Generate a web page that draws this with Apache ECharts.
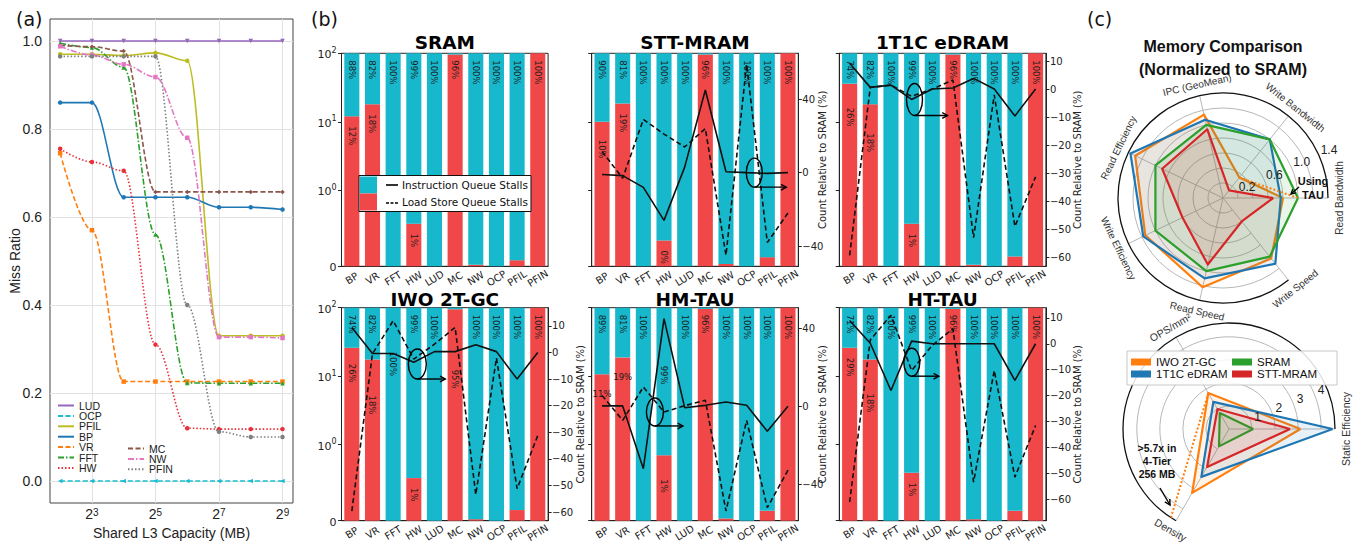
<!DOCTYPE html>
<html><head><meta charset="utf-8">
<script src="https://cdn.jsdelivr.net/npm/echarts@6/dist/echarts.min.js"></script>
<style>html,body{margin:0;padding:0;background:#fff}#c{width:1366px;height:544px}</style>
</head><body><div id="c"></div>
<script>
// ================= DATA =================
// ---- Panel (a): miss ratio vs shared L3 capacity ----
const capacitiesMB = [4, 8, 16, 32, 64, 128, 256, 512];
const capacityTickMB = [8, 32, 128, 512];
const missRatioTicks = [0, 0.2, 0.4, 0.6, 0.8, 1.0];
const missLUD  = [1.0, 1.0, 1.0, 1.0, 1.0, 1.0, 1.0, 1.0];
const missOCP  = [0, 0, 0, 0, 0, 0, 0, 0];
const missPFIL = [0.97, 0.97, 0.967, 0.973, 0.955, 0.33, 0.33, 0.33];
const missBP   = [0.86, 0.86, 0.645, 0.645, 0.645, 0.622, 0.622, 0.617];
const missVR   = [0.745, 0.57, 0.226, 0.226, 0.226, 0.226, 0.226, 0.226];
const missFFT  = [0.995, 0.985, 0.94, 0.56, 0.223, 0.222, 0.222, 0.222];
const missHW   = [0.755, 0.725, 0.705, 0.31, 0.12, 0.118, 0.118, 0.118];
const missMC   = [0.99, 0.987, 0.977, 0.657, 0.657, 0.657, 0.657, 0.657];
const missNW   = [0.988, 0.968, 0.947, 0.918, 0.78, 0.327, 0.327, 0.325];
const missPFIN = [0.965, 0.965, 0.965, 0.965, 0.40, 0.112, 0.10, 0.10];

// ---- Panel (b): stall breakdown (%), symlog bars + relative counts ----
const benchmarks = ['BP', 'VR', 'FFT', 'HW', 'LUD', 'MC', 'NW', 'OCP', 'PFIL', 'PFIN'];
const symlogTickValues = [0, 1, 10, 100];
const deltaTicksFine = [-60, -50, -40, -30, -20, -10, 0, 10];
const deltaTicksCoarse = [-40, 0, 40];
// load-store-queue bar heights (% of stalls)
const lsqBarSRAM = [12, 18, 0, 0.56, 0, 96, 0.02, 0, 0.08, 100];
const lsqBarSTT  = [10, 18.5, 0, 0.34, 0, 96, 0.03, 0, 0.12, 100];
const lsqBarEDRAM= [36, 18, 0, 0.56, 0, 96, 0.02, 0, 0.13, 100];
const lsqBarIWO  = [26, 17.5, 0, 0.56, 0, 95, 0.02, 0, 0.14, 100];
const lsqBarHM   = [10.7, 18.8, 0, 0.86, 0, 96, 0.03, 0, 0.13, 100];
const lsqBarHT   = [26, 17.5, 0, 0.63, 0, 96, 0.02, 0, 0.13, 100];
// labels written at the top of each bar
const topPctSRAM = [88, 82, 100, 99, 100, 96, 100, 100, 100, 100];
const topPctSTT  = [90, 81, 100, 100, 100, 96, 100, 100, 100, 100];
const topPctEDRAM= [74, 82, 100, 99, 100, 96, 100, 100, 100, 100];
const topPctIWO  = [74, 82, 100, 99, 100, 95, 100, 100, 100, 100];
const topPctHM   = [89, 81, 100, 99, 100, 96, 100, 100, 100, 100];
const topPctHT   = [71, 82, 100, 99, 100, 96, 100, 100, 100, 100];
// labels written inside the load-store part
const lsqPctSRAM = [12, 18, null, 1, null, null, null, null, null, null];
const lsqPctSTT  = [10, 19, null, 0, null, null, null, null, null, null];
const lsqPctEDRAM= [26, 18, null, 1, null, null, null, null, null, null];
const lsqPctIWO  = [26, 18, null, 1, null, null, null, null, null, null];
const lsqPctHM   = [11, 19, null, 1, null, null, null, null, null, null];
const lsqPctHT   = [29, 18, null, 1, null, null, null, null, null, null];
// counts relative to SRAM (%)
const iqDeltaSTT   = [-1, -1.6, -8, -26, 3, 45, 0.5, 0, -0.4, 0];
const lsqDeltaSTT  = [11.5, -3, 29, 21, 14, 24, -45, 59, -38, -22];
const iqDeltaEDRAM = [9.2, 0.6, 1.4, -3.7, 0, 0.4, 3.8, 0, -9.6, 0];
const lsqDeltaEDRAM= [-59.3, 0.6, 1.4, -2.6, 0, 3.2, -53, -2.1, -49, -31.3];
const iqDeltaIWO   = [9.4, -0.4, -0.4, -3.7, 0.3, 0.3, 2.9, 0.3, -10, 0];
const lsqDeltaIWO  = [-59.6, -0.5, 11.9, -2.5, 3.1, 9.4, -53.4, -2.1, -51.2, -31.2];
const iqDeltaHM    = [0.2, 0.2, -32, 45, -0.7, 0.5, 2.2, 0.5, -12.8, 0];
const lsqDeltaHM   = [5.6, -7.2, 9.9, -2.9, 0.3, 3.1, -53.7, -7.2, -52, -32.8];
const iqDeltaHT    = [9, 0.2, -18, 1, 0, 0, 0, 0, -14.1, 0];
const lsqDeltaHT   = [-61, 1.5, 11, -10.3, -0.6, 5.8, -53.3, -10.3, -51.4, -31.5];

// ---- Panel (c): radar comparisons ----
const perfAxes = ['Read Bandwidth', 'Write Bandwidth', 'IPC (GeoMean)', 'Read Efficiency', 'Write Efficiency', 'Read Speed', 'Write Speed'];
const perfIWO   = [0.80, 0.35, 1.14, 1.30, 1.15, 1.22, 1.03];
const perfEDRAM = [0.77, 1.00, 1.07, 1.37, 1.18, 1.10, 1.12];
const perfSRAM  = [1.00, 1.00, 1.00, 1.00, 1.00, 1.00, 1.00];
const perfSTT   = [0.67, 0.13, 0.94, 0.90, 0.60, 0.91, 0.40];
const perfTauAxes   = ['Write Bandwidth', 'Read Bandwidth', 'Write Speed'];
const perfTauValues = [0.35, 1.00, 1.03];
const perfRingValues  = [0.2, 0.4, 0.6, 0.8, 1.0, 1.2];
const perfRingLabels  = [0.2, 0.6, 1.0, 1.4];
const densAxes = ['Static Efficiency', 'OPS/mm²', 'Density'];
const densIWO   = [3.1, 1.8, 3.2];
const densEDRAM = [4.5, 1.36, 2.4];
const densSRAM  = [1.05, 0.8, 0.87];
const densSTT   = [2.65, 1.0, 1.9];
const dens4TierAxes   = ['OPS/mm²', 'Density', 'Static Efficiency'];
const dens4TierValues = [1.8, 5.7, 3.1];
const densRingValues = [1, 2, 3, 4];

// ================= BUILD =================
const FA = 'Liberation Sans', FB = 'DejaVu Sans';
const CYAN = '#17b8cc', RED = '#f04848';
const LIN = 1 / (1 - 1 / 10);
function symlog(v) { return v <= 1 ? v * LIN : LIN + Math.log10(v); }
const SYM_TOP = symlog(100);

const chart = echarts.init(document.getElementById('c'), null, {renderer: 'svg', width: 1366, height: 544});

const titles = [], legends = [], grids = [], xAxes = [], yAxes = [], series = [];

// ----- (a) -----
titles.push({text: '(a)', left: 16, top: 8, padding: 0, textStyle: {fontFamily: FB, fontSize: 19, fontWeight: 'normal', color: '#111', lineHeight: 22}});
titles.push({text: '(b)', left: 311, top: 8, padding: 0, textStyle: {fontFamily: FB, fontSize: 19, fontWeight: 'normal', color: '#111', lineHeight: 22}});
titles.push({text: '(c)', left: 1087, top: 8, padding: 0, textStyle: {fontFamily: FB, fontSize: 19, fontWeight: 'normal', color: '#111', lineHeight: 22}});

grids.push({left: 50, top: 19, width: 243, height: 484, show: true, borderColor: '#444', borderWidth: 1, outerBoundsMode: 'none'});
const capTicks = capacityTickMB.map(c => Math.log2(c));
xAxes.push({gridIndex: 0, type: 'value', min: 1.68, max: 9.33,
  name: 'Shared L3 Capacity (MB)', nameLocation: 'middle', nameGap: 22, nameMoveOverlap: false,
  nameTextStyle: {fontFamily: FA, fontSize: 14, color: '#222', lineHeight: 15},
  axisLine: {show: false}, axisTick: {show: false, customValues: capTicks},
  axisLabel: {customValues: capTicks, margin: 4, color: '#222',
    formatter: v => '{b|2}{s|' + Math.round(v) + '}',
    rich: {b: {fontFamily: FA, fontSize: 14, lineHeight: 14, verticalAlign: 'bottom', color: '#222'},
           s: {fontFamily: FA, fontSize: 10, lineHeight: 14, verticalAlign: 'top', color: '#222'}}},
  splitLine: {show: true, lineStyle: {color: '#e2e2e2', width: 1}}});
yAxes.push({gridIndex: 0, type: 'value', min: -0.05, max: 1.05,
  name: 'Miss Ratio', nameLocation: 'middle', nameGap: 28, nameMoveOverlap: false,
  nameTextStyle: {fontFamily: FA, fontSize: 14, color: '#222'},
  axisLine: {show: false}, axisTick: {show: false, customValues: missRatioTicks},
  axisLabel: {customValues: missRatioTicks, formatter: v => v.toFixed(1), fontFamily: FA, fontSize: 14, margin: 8, color: '#222'},
  splitLine: {show: true, lineStyle: {color: '#e2e2e2', width: 1}}});

const missDefs = [
  ['LUD', missLUD, '#9467bd', 'solid', 'triangle', 180],
  ['OCP', missOCP, '#17becf', [5, 2.5], 'triangle', 90],
  ['PFIL', missPFIL, '#bcbd22', 'solid', 'circle', 0],
  ['BP', missBP, '#1f77b4', 'solid', 'circle', 0],
  ['VR', missVR, '#ff7f0e', [5, 2.5], 'rect', 0],
  ['FFT', missFFT, '#2ca02c', [6, 2, 1.5, 2], 'triangle', 0],
  ['HW', missHW, '#e8303a', [1.5, 2], 'circle', 0],
  ['MC', missMC, '#8c564b', [5, 2.5], 'diamond', 0],
  ['NW', missNW, '#e377c2', [6, 2, 1.5, 2], 'rect', 0],
  ['PFIN', missPFIN, '#7f7f7f', [1.5, 2], 'circle', 0]
];
missDefs.forEach(([name, arr, color, dash, sym, rot]) => {
  series.push({type: 'line', name, xAxisIndex: 0, yAxisIndex: 0,
    data: capacitiesMB.map((c, i) => [Math.log2(c), arr[i]]),
    smooth: 0.35, smoothMonotone: 'x', symbol: sym, symbolSize: 4.5, symbolRotate: rot,
    lineStyle: {color, width: 1.6, type: dash}, itemStyle: {color}, z: 3});
});
const legA = {orient: 'vertical', padding: 0, itemWidth: 16, itemHeight: 8, itemGap: -0.6,
  textStyle: {fontFamily: FA, fontSize: 10.5, color: '#222', lineHeight: 9.6}, itemStyle: {opacity: 0}};
legends.push(Object.assign({}, legA, {left: 57, top: 400, data: ['LUD', 'OCP', 'PFIL', 'BP', 'VR', 'FFT', 'HW']}));
legends.push(Object.assign({}, legA, {left: 127, top: 443, data: ['MC', 'NW', 'PFIN']}));

// ----- (b) -----
const panels = [
  {title: 'SRAM', bar: lsqBarSRAM, top: topPctSRAM, low: lsqPctSRAM, col: 0, row: 0},
  {title: 'STT-MRAM', bar: lsqBarSTT, top: topPctSTT, low: lsqPctSTT, iq: iqDeltaSTT, lsq: lsqDeltaSTT, col: 1, row: 0, rmin: -51, rmax: 65, ticks: deltaTicksCoarse, gap: 19},
  {title: '1T1C eDRAM', bar: lsqBarEDRAM, top: topPctEDRAM, low: lsqPctEDRAM, iq: iqDeltaEDRAM, lsq: lsqDeltaEDRAM, col: 2, row: 0, rmin: -63.2, rmax: 12.75, ticks: deltaTicksFine, gap: 27},
  {title: 'IWO 2T-GC', bar: lsqBarIWO, top: topPctIWO, low: lsqPctIWO, iq: iqDeltaIWO, lsq: lsqDeltaIWO, col: 0, row: 1, rmin: -63.2, rmax: 16.8, ticks: deltaTicksFine, gap: 27},
  {title: 'HM-TAU', bar: lsqBarHM, top: topPctHM, low: lsqPctHM, iq: iqDeltaHM, lsq: lsqDeltaHM, col: 1, row: 1, rmin: -58.7, rmax: 50.6, ticks: deltaTicksCoarse, gap: 19},
  {title: 'HT-TAU', bar: lsqBarHT, top: topPctHT, low: lsqPctHT, iq: iqDeltaHT, lsq: lsqDeltaHT, col: 2, row: 1, rmin: -68.2, rmax: 13.9, ticks: deltaTicksFine, gap: 27}
];
const colLeft = [341.5, 591.7, 839.3], rowTop = [53.3, 307.7], GW = 206.6, GH = 213;
// label placement tweaks (pixels)
const topLabelDist = {'IWO 2T-GC': {2: 44, 5: 62}, 'HM-TAU': {3: 58}};
const lowLabelDist = {'STT-MRAM': {0: 18}, '1T1C eDRAM': {0: 24, 1: 29}, 'IWO 2T-GC': {0: 16, 1: 36}, 'HT-TAU': {1: 34}, 'HM-TAU': {3: 24}};
const lowLabelFlat = {'HM-TAU': {0: 15, 1: 15}};
const symTicks = symlogTickValues.map(symlog);
const rightAxisOf = {};

panels.forEach((p, k) => {
  const gi = k + 1;
  grids.push({left: colLeft[p.col], top: rowTop[p.row], width: GW, height: GH, show: true, borderColor: '#222', borderWidth: 1, outerBoundsMode: 'none'});
  titles.push({text: p.title, left: colLeft[p.col] + GW / 2, top: p.row === 0 ? 32.5 : 289, textAlign: 'center', padding: 0,
    textStyle: {fontFamily: FB, fontSize: 18.5, fontWeight: 'bold', color: '#000', lineHeight: 20}});
  xAxes.push({gridIndex: gi, type: 'category', data: benchmarks,
    axisLine: {lineStyle: {color: '#222'}}, axisTick: {alignWithLabel: true, length: 3.5, lineStyle: {color: '#222'}},
    axisLabel: {interval: 0, rotate: 32, align: 'center', verticalAlign: 'middle', margin: 12, fontFamily: FB, fontSize: 10, color: '#222'}});
  yAxes.push({gridIndex: gi, type: 'value', min: 0, max: SYM_TOP, position: 'left',
    axisLine: {show: true, lineStyle: {color: '#222'}},
    axisTick: {show: true, length: 3.5, customValues: symTicks, lineStyle: {color: '#222'}},
    axisLabel: {show: p.col === 0, customValues: symTicks, margin: 5,
      formatter: v => { const t = symlogTickValues.find(x => Math.abs(symlog(x) - v) < 1e-6); return t === 0 ? '{b|0}' : '{b|10}{s|' + Math.round(Math.log10(t)) + '}'; },
      rich: {b: {fontFamily: FB, fontSize: 11, lineHeight: 14, verticalAlign: 'bottom', color: '#222'},
             s: {fontFamily: FB, fontSize: 8, lineHeight: 14, verticalAlign: 'top', color: '#222'}}},
    splitLine: {show: false}});
});
panels.forEach((p, k) => {
  if (!p.iq) return;
  rightAxisOf[k] = yAxes.length;
  yAxes.push({gridIndex: k + 1, type: 'value', position: 'right', min: p.rmin, max: p.rmax,
    name: 'Count Relative to SRAM (%)', nameLocation: 'middle', nameRotate: 90, nameGap: p.gap, nameMoveOverlap: false,
    nameTextStyle: {fontFamily: FB, fontSize: 10, color: '#222'},
    axisLine: {show: true, lineStyle: {color: '#222'}},
    axisTick: {show: true, length: 3.5, customValues: p.ticks, lineStyle: {color: '#222'}},
    axisLabel: {customValues: p.ticks, margin: 4, fontFamily: FB, fontSize: 10, color: '#222',
      formatter: v => (v < 0 ? '\u2212' : '') + Math.abs(Math.round(v))},
    splitLine: {show: false}});
});

panels.forEach((p, k) => {
  const gi = k + 1;
  const barLabel = {show: true, position: 'insideTop', rotate: -90, align: 'left', verticalAlign: 'middle',
    fontFamily: FB, fontSize: 8.5, color: '#1c1c1c'};
  series.push({type: 'bar', name: 'Load Store Queue Stalls', xAxisIndex: gi, yAxisIndex: gi, stack: 'st' + k, barWidth: '73%',
    itemStyle: {color: RED},
    label: Object.assign({}, barLabel, {distance: 10, formatter: prm => p.low[prm.dataIndex] == null ? '' : p.low[prm.dataIndex] + '%'}),
    data: p.bar.map((v, i) => {
      const o = {value: symlog(v)};
      const d = (lowLabelDist[p.title] || {})[i];
      const f = (lowLabelFlat[p.title] || {})[i];
      if (f != null) o.label = {rotate: 0, align: 'center', verticalAlign: 'top', distance: f};
      else if (d != null) o.label = {distance: d};
      return o;
    })});
  series.push({type: 'bar', name: 'Instruction Queue Stalls', xAxisIndex: gi, yAxisIndex: gi, stack: 'st' + k, barWidth: '73%',
    itemStyle: {color: CYAN},
    label: Object.assign({}, barLabel, {distance: 7, formatter: prm => p.top[prm.dataIndex] + '%'}),
    data: p.bar.map((v, i) => {
      const o = {value: SYM_TOP - symlog(v)};
      const d = (topLabelDist[p.title] || {})[i];
      if (d != null) o.label = {distance: d};
      return o;
    })});
  if (p.iq) {
    series.push({type: 'line', name: 'IQ relative ' + p.title, xAxisIndex: gi, yAxisIndex: rightAxisOf[k], data: p.iq,
      symbol: 'none', lineStyle: {color: '#111', width: 1.6}, z: 5});
    series.push({type: 'line', name: 'LSQ relative ' + p.title, xAxisIndex: gi, yAxisIndex: rightAxisOf[k], data: p.lsq,
      symbol: 'none', lineStyle: {color: '#111', width: 1.6, type: [5, 3]}, z: 5});
  }
});
legends.push({orient: 'vertical', left: 359, top: 175.5, padding: [1, 3, 1, 1], itemGap: 0, itemWidth: 17, itemHeight: 17,
  icon: 'rect', borderColor: '#111', borderWidth: 1, backgroundColor: '#fff',
  data: ['Instruction Queue Stalls', 'Load Store Queue Stalls'],
  textStyle: {fontFamily: FB, fontSize: 10.5, color: '#111', padding: [0, 0, 0, 20]}, z: 20});

// ----- (c) -----
titles.push({text: 'Memory Comparison\n(Normalized to SRAM)', left: 1223, top: 35, textAlign: 'center', padding: 0,
  textStyle: {fontFamily: FA, fontSize: 16, fontWeight: 'bold', color: '#111', lineHeight: 23.3}});
const polarCenters = [[1223, 198], [1229, 429]], polarRadii = [105, 106], polarMax = [1.4, 4.6];
const polar = polarCenters.map((c, i) => ({center: c, radius: polarRadii[i]}));
const angleAxis = [perfAxes, densAxes].map((names, pi) => ({polarIndex: pi, type: 'category', data: names, startAngle: 0,
  clockwise: false, boundaryGap: false, axisLine: {lineStyle: {color: '#111', width: 1.3}}, axisTick: {show: false},
  axisLabel: {show: false}, splitLine: {show: true, lineStyle: {color: '#b8b8b8', width: 1}}, z: 1}));
const radiusAxis = [
  {polarIndex: 0, type: 'value', min: 0, max: polarMax[0], axisLine: {show: false}, axisTick: {show: false, customValues: perfRingValues},
   axisLabel: {show: false}, splitLine: {show: true, lineStyle: {color: '#b8b8b8', width: 1}}, z: 1},
  {polarIndex: 1, type: 'value', min: 0, max: polarMax[1], axisLine: {show: false}, axisTick: {show: false, customValues: densRingValues},
   axisLabel: {show: false}, splitLine: {show: true, lineStyle: {color: '#b8b8b8', width: 1}}, z: 1}
];
const hidden = {show: false};
const radar = [perfAxes, densAxes].map((names, pi) => ({center: polarCenters[pi], radius: polarRadii[pi], startAngle: 0, shape: 'circle',
  indicator: names.map(n => ({name: n, min: 0, max: polarMax[pi]})),
  axisName: hidden, axisLine: hidden, splitLine: hidden, splitArea: hidden, axisTick: hidden, axisLabel: hidden, silent: true}));
const memColors = {'IWO 2T-GC': '#ff7f0e', '1T1C eDRAM': '#1f77b4', 'SRAM': '#2ca02c', 'STT-MRAM': '#d62728'};
[[0, {'IWO 2T-GC': perfIWO, '1T1C eDRAM': perfEDRAM, 'SRAM': perfSRAM, 'STT-MRAM': perfSTT}],
 [1, {'IWO 2T-GC': densIWO, '1T1C eDRAM': densEDRAM, 'SRAM': densSRAM, 'STT-MRAM': densSTT}]].forEach(([pi, sets]) => {
  Object.keys(sets).forEach(name => {
    const c = memColors[name];
    series.push({type: 'radar', radarIndex: pi, name, symbol: 'none',
      data: [{name, value: sets[name]}],
      lineStyle: {color: c, width: 2.2}, itemStyle: {color: c}, areaStyle: {color: c, opacity: 0.1}, z: 3});
  });
});
series.push({type: 'line', coordinateSystem: 'polar', polarIndex: 0, name: 'IWO 2T-GC',
  data: perfTauAxes.map((a, i) => [perfTauValues[i], perfAxes.indexOf(a)]), symbol: 'none',
  lineStyle: {color: '#ff7f0e', width: 2, type: [2, 2]}, itemStyle: {color: '#ff7f0e'}, z: 4});
series.push({type: 'line', coordinateSystem: 'polar', polarIndex: 1, name: 'IWO 2T-GC', clip: true,
  data: dens4TierAxes.map((a, i) => [dens4TierValues[i], densAxes.indexOf(a)]), symbol: 'none',
  lineStyle: {color: '#ff7f0e', width: 2, type: [2, 2]}, itemStyle: {color: '#ff7f0e'}, z: 4});
legends.push({orient: 'horizontal', left: 1127, top: 351, width: 204, padding: [5, 4, 5, 4], icon: 'rect',
  itemWidth: 20, itemHeight: 7, itemGap: 0, borderColor: '#c8c8c8', borderWidth: 1, backgroundColor: 'rgba(255,255,255,0.85)',
  data: ['IWO 2T-GC', 'SRAM', '1T1C eDRAM', 'STT-MRAM'],
  textStyle: {fontFamily: FA, fontSize: 11.5, color: '#111', width: 76, lineHeight: 9}, z: 20});

chart.setOption({animation: false, backgroundColor: '#fff', textStyle: {fontFamily: FA},
  title: titles, legend: legends, grid: grids, xAxis: xAxes, yAxis: yAxes,
  polar, angleAxis, radiusAxis, radar, series});

// ================= ANNOTATIONS =================
const g = [];
function arrow(x1, y1, x2, y2, head, w) {
  const a = Math.atan2(y2 - y1, x2 - x1);
  g.push({type: 'line', z: 50, silent: true, shape: {x1, y1, x2, y2}, style: {stroke: '#000', lineWidth: w}});
  g.push({type: 'polyline', z: 50, silent: true, shape: {points: [
    [x2 - head * Math.cos(a - 0.5), y2 - head * Math.sin(a - 0.5)], [x2, y2],
    [x2 - head * Math.cos(a + 0.5), y2 - head * Math.sin(a + 0.5)]]}, style: {stroke: '#000', fill: null, lineWidth: w}});
}
// legend line samples for panel (b)
g.push({type: 'line', z: 50, shape: {x1: 386, y1: 185, x2: 398, y2: 185}, style: {stroke: '#000', lineWidth: 1.6}});
g.push({type: 'line', z: 50, shape: {x1: 386, y1: 203, x2: 398, y2: 203}, style: {stroke: '#000', lineWidth: 1.6, lineDash: [3, 1.5]}});
// ellipse + arrow markers in panel (b): [panel, category position, value, rx, ry, arrow length]
const marks = [[1, 7.37, 0, 8, 14.5, 32], [2, 3.14, -3.7, 8, 16, 33], [3, 3.17, -4.35, 9, 15, 28], [4, 2.56, -2.9, 8.5, 14, 28], [5, 3.01, -7.1, 8, 14, 27]];
marks.forEach(([k, pos, val, rx, ry, len]) => {
  const f = {xAxisIndex: k + 1, yAxisIndex: rightAxisOf[k]};
  const i0 = Math.floor(pos);
  const p0 = chart.convertToPixel(f, [i0, val]), p1 = chart.convertToPixel(f, [i0 + 1, val]);
  const cx = p0[0] + (pos - i0) * (p1[0] - p0[0]), cy = p0[1];
  g.push({type: 'ellipse', z: 50, silent: true, shape: {cx, cy, rx, ry}, style: {stroke: '#000', fill: null, lineWidth: 1.4}});
  arrow(cx, cy + ry, cx + len, cy + ry, 6, 1.4);
});
// polar labels
function pp(pi, r, idx) { return chart.convertToPixel({polarIndex: pi}, [r, idx]); }
function polarNames(pi, names, maxV, extra, fs) {
  const c = pp(pi, 0, 0);
  names.forEach((nm, i) => {
    const p = pp(pi, maxV, i);
    const dx = p[0] - c[0], dy = p[1] - c[1], R = Math.hypot(dx, dy);
    const th = Math.atan2(-dy, dx) * 180 / Math.PI;
    let rot = th - 90; while (rot <= -90) rot += 180; while (rot > 90) rot -= 180;
    g.push({type: 'text', z: 30, silent: true, x: c[0] + dx / R * (R + extra), y: c[1] + dy / R * (R + extra), rotation: rot * Math.PI / 180,
      style: {text: nm, align: 'center', verticalAlign: 'middle', fontFamily: FA, fontSize: fs, fill: '#333'}});
  });
}
function ringLabels(pi, vals, angDeg, extra, fs, fmt) {
  const c = pp(pi, 0, 0), q = pp(pi, 1, 0), k = Math.hypot(q[0] - c[0], q[1] - c[1]);
  const a = angDeg * Math.PI / 180;
  vals.forEach(v => {
    const r = v * k + extra;
    g.push({type: 'text', z: 30, silent: true, x: c[0] + r * Math.cos(a), y: c[1] - r * Math.sin(a),
      style: {text: fmt(v), align: 'center', verticalAlign: 'middle', fontFamily: FA, fontSize: fs, fill: '#222'}});
  });
}
polarNames(0, perfAxes, polarMax[0], 11, 10);
polarNames(1, densAxes, polarMax[1], 11, 10.5);
ringLabels(0, perfRingLabels, 24.5, 11.5, 12, v => v.toFixed(1));
ringLabels(1, densRingValues, 23, 8, 12, v => String(v));
const c0 = pp(0, 0, 0), c1 = pp(1, 0, 0);
g.push({type: 'text', z: 40, silent: true, x: c0[0] + 90, y: c0[1] - 10, style: {text: 'Using\nTAU', align: 'center', verticalAlign: 'middle',
  fontFamily: FA, fontSize: 11, fontWeight: 'bold', fill: '#111', lineHeight: 14}});
arrow(c0[0] + 76, c0[1] - 11, c0[0] + 68, c0[1] - 4, 5, 1.4);
g.push({type: 'text', z: 40, silent: true, x: c1[0] - 72, y: c1[1] + 32, style: {text: '>5.7x in\n4-Tier\n256 MB', align: 'center', verticalAlign: 'middle',
  fontFamily: FA, fontSize: 10.5, fontWeight: 'bold', fill: '#111', lineHeight: 13.3}});
arrow(c1[0] - 69, c1[1] + 59, c1[0] - 59, c1[1] + 76, 6, 1.4);
chart.setOption({graphic: g});
</script></body></html>
